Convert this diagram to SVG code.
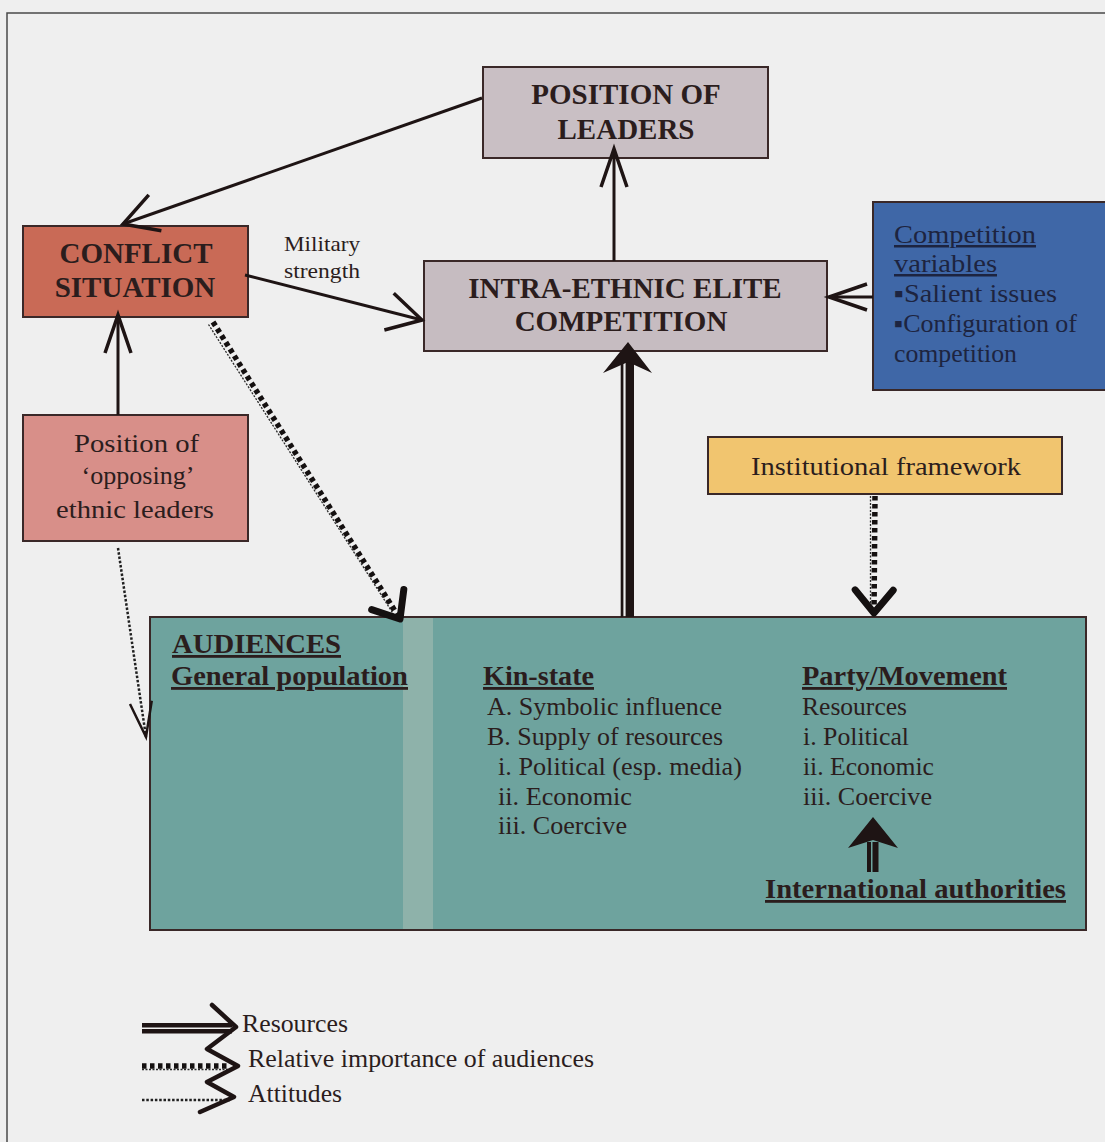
<svg xmlns="http://www.w3.org/2000/svg" width="1105" height="1142" viewBox="0 0 1105 1142">
  <style>
    .bg { fill: #efefef; }
    .frame { stroke: #4a4a4a; stroke-width: 1.5; fill: none; }
    .box { stroke: #3a2828; stroke-width: 2; }
    .t { font-family: "Liberation Serif", "Times New Roman", serif; fill: #2b1d1d; }
    .title { font-size: 29px; font-weight: bold; text-anchor: middle; }
    .reg { font-size: 25px; }
    .hd { font-size: 28px; font-weight: bold; text-decoration: underline; }
    .navy { fill: #1d2440; }
    .line { stroke: #1e1414; stroke-width: 3; fill: none; }
    .sq { stroke: #141010; stroke-width: 5.5; stroke-dasharray: 4.5 3.5; fill: none; }
    .thin { stroke: #2a2a2a; stroke-width: 1.3; stroke-dasharray: 2 1.5; fill: none; }
    .dots { stroke: #202020; stroke-width: 2.5; stroke-dasharray: 2.5 1.8; fill: none; }
  </style>
  <defs>
    <marker id="open" markerUnits="userSpaceOnUse" viewBox="-44 -20 48 40" markerWidth="48" markerHeight="40" refX="0" refY="0" orient="auto" overflow="visible">
      <path d="M-38,-13 L0,0 L-38,13" fill="none" stroke="#1e1414" stroke-width="3.5" stroke-linejoin="miter"/>
    </marker>
    <marker id="openWide" markerUnits="userSpaceOnUse" viewBox="-44 -24 48 48" markerWidth="48" markerHeight="48" refX="0" refY="0" orient="auto" overflow="visible">
      <path d="M-34,-19 L0,0 L-34,19" fill="none" stroke="#1e1414" stroke-width="3.5"/>
    </marker>
    <marker id="boldV" markerUnits="userSpaceOnUse" viewBox="-34 -26 40 52" markerWidth="40" markerHeight="52" refX="0" refY="0" orient="auto" overflow="visible">
      <path d="M-23,-19 L0,0 L-23,19" fill="none" stroke="#141010" stroke-width="7" stroke-linecap="round" stroke-linejoin="round"/>
    </marker>
    <marker id="thinV" markerUnits="userSpaceOnUse" viewBox="-40 -14 44 28" markerWidth="44" markerHeight="28" refX="0" refY="0" orient="auto" overflow="visible">
      <path d="M-35,-11 L0,0 L-35,11" fill="none" stroke="#1e1414" stroke-width="2.5"/>
    </marker>
  </defs>

  <!-- page -->
  <rect class="bg" x="0" y="0" width="1105" height="1142"/>
  <path class="frame" d="M7,1142 V13 H1105"/>

  <!-- nodes -->
  <g id="position-of-leaders">
    <rect class="box" x="483" y="67" width="285" height="91" fill="#c9bfc4"/>
    <text class="t title" x="626" y="104">POSITION OF</text>
    <text class="t title" x="626" y="139">LEADERS</text>
  </g>

  <g id="intra-ethnic-elite-competition">
    <rect class="box" x="424" y="261" width="403" height="90" fill="#c6bcc1"/>
    <text class="t title" x="625" y="298">INTRA-ETHNIC ELITE</text>
    <text class="t title" x="621" y="331">COMPETITION</text>
  </g>

  <g id="conflict-situation">
    <rect class="box" x="23" y="226" width="225" height="91" fill="#c96a56"/>
    <text class="t title" x="136" y="263">CONFLICT</text>
    <text class="t title" x="135" y="297">SITUATION</text>
  </g>

  <g id="opposing-leaders">
    <rect class="box" x="23" y="415" width="225" height="126" fill="#d88f89"/>
    <text class="t reg" x="136.5" y="452" text-anchor="middle" textLength="125" lengthAdjust="spacingAndGlyphs">Position of</text>
    <text class="t reg" x="138" y="484" text-anchor="middle" textLength="113" lengthAdjust="spacingAndGlyphs">‘opposing’</text>
    <text class="t reg" x="135" y="518" text-anchor="middle" textLength="158" lengthAdjust="spacingAndGlyphs">ethnic leaders</text>
  </g>

  <g id="competition-variables">
    <rect class="box" x="873" y="202" width="240" height="188" fill="#3f67a7"/>
    <text class="t reg navy" x="894" y="243" text-decoration="underline" textLength="142" lengthAdjust="spacingAndGlyphs">Competition</text>
    <text class="t reg navy" x="894" y="272" text-decoration="underline" textLength="103" lengthAdjust="spacingAndGlyphs">variables</text>
    <text class="t reg navy" x="894" y="302" textLength="163" lengthAdjust="spacingAndGlyphs">▪Salient issues</text>
    <text class="t reg navy" x="894" y="332" textLength="183" lengthAdjust="spacingAndGlyphs">▪Configuration of</text>
    <text class="t reg navy" x="894" y="362" textLength="123" lengthAdjust="spacingAndGlyphs">competition</text>
  </g>

  <g id="institutional-framework">
    <rect class="box" x="708" y="437" width="354" height="57" fill="#f1c56f"/>
    <text class="t reg" x="886" y="475" text-anchor="middle" textLength="270" lengthAdjust="spacingAndGlyphs">Institutional framework</text>
  </g>

  <g id="audiences">
    <rect class="box" x="150" y="617" width="936" height="313" fill="#6ea39e"/>
    <rect x="403" y="618" width="30" height="311" fill="#8eb2aa"/>
    <text class="t hd" x="172" y="653" textLength="169" lengthAdjust="spacingAndGlyphs">AUDIENCES</text>
    <text class="t hd" x="171" y="685" textLength="237" lengthAdjust="spacingAndGlyphs">General population</text>

    <text class="t hd" x="483" y="685" textLength="111" lengthAdjust="spacingAndGlyphs">Kin-state</text>
    <text class="t reg" x="487" y="715" textLength="235" lengthAdjust="spacingAndGlyphs">A. Symbolic influence</text>
    <text class="t reg" x="487" y="745" textLength="236" lengthAdjust="spacingAndGlyphs">B. Supply of resources</text>
    <text class="t reg" x="498" y="775" textLength="244" lengthAdjust="spacingAndGlyphs">i. Political (esp. media)</text>
    <text class="t reg" x="498" y="805" textLength="134" lengthAdjust="spacingAndGlyphs">ii. Economic</text>
    <text class="t reg" x="498" y="834" textLength="129" lengthAdjust="spacingAndGlyphs">iii. Coercive</text>

    <text class="t hd" x="802" y="685" textLength="205" lengthAdjust="spacingAndGlyphs">Party/Movement</text>
    <text class="t reg" x="802" y="715" textLength="105" lengthAdjust="spacingAndGlyphs">Resources</text>
    <text class="t reg" x="803" y="745" textLength="106" lengthAdjust="spacingAndGlyphs">i. Political</text>
    <text class="t reg" x="803" y="775" textLength="131" lengthAdjust="spacingAndGlyphs">ii. Economic</text>
    <text class="t reg" x="803" y="805" textLength="129" lengthAdjust="spacingAndGlyphs">iii. Coercive</text>

    <!-- resources from international authorities -->
    <rect x="867" y="842" width="4" height="30" fill="#1e1414"/>
    <rect x="872.5" y="842" width="6" height="30" fill="#1e1414"/>
    <path d="M873,817 L898,848 L873,840 L848,848 Z" fill="#1e1414"/>
    <text class="t hd" x="765" y="898" textLength="301" lengthAdjust="spacingAndGlyphs">International authorities</text>
  </g>

  <!-- connectors -->
  <g id="connectors">
    <!-- plain influence arrows -->
    <line class="line" x1="482" y1="98" x2="123" y2="224" marker-end="url(#openWide)"/>
    <line class="line" x1="245" y1="275" x2="422" y2="320" marker-end="url(#openWide)"/>
    <line class="line" x1="614" y1="261" x2="614" y2="149" marker-end="url(#open)"/>
    <line class="line" x1="873" y1="297" x2="829" y2="297" marker-end="url(#open)"/>
    <line class="line" x1="118" y1="415" x2="118" y2="315" marker-end="url(#open)"/>

    <!-- resources: audiences to elite competition -->
    <rect x="620.7" y="360" width="2.7" height="257" fill="#1e1414"/>
    <rect x="625.6" y="360" width="8.4" height="257" fill="#1e1414"/>
    <path d="M628,342 L652,373 L628,362 L603,373 Z" fill="#1e1414"/>

    <!-- relative importance of audiences -->
    <line class="thin" x1="208.5" y1="324.5" x2="394" y2="615"/>
    <line class="sq" x1="213" y1="322" x2="400" y2="619" marker-end="url(#boldV)"/>
    <line class="thin" x1="870.5" y1="496" x2="870.5" y2="606"/>
    <line class="sq" x1="875" y1="496" x2="874" y2="613" marker-end="url(#boldV)"/>

    <!-- attitudes -->
    <line class="dots" x1="118" y1="548" x2="146" y2="737" marker-end="url(#thinV)"/>
  </g>

  <!-- connector label -->
  <g id="military-strength">
    <text class="t" font-size="22" x="284" y="251" textLength="76" lengthAdjust="spacingAndGlyphs">Military</text>
    <text class="t" font-size="22" x="284" y="278" textLength="76" lengthAdjust="spacingAndGlyphs">strength</text>
  </g>

  <!-- legend -->
  <g id="legend">
    <rect x="142" y="1023" width="90" height="4.5" fill="#1e1414"/>
    <rect x="142" y="1029" width="90" height="4.5" fill="#1e1414"/>
    <line class="sq" x1="142" y1="1066" x2="230" y2="1066" stroke-width="4"/>
    <line class="thin" x1="142" y1="1069.5" x2="230" y2="1069.5"/>
    <line class="dots" x1="142" y1="1100" x2="230" y2="1100" stroke-width="2.2"/>
    <polyline points="212,1005 236,1027 207,1049 238,1066 207,1082 234,1097 200,1112" fill="none" stroke="#1e1414" stroke-width="4.5" stroke-linejoin="round" stroke-linecap="round"/>
    <text class="t reg" x="242" y="1032" textLength="106" lengthAdjust="spacingAndGlyphs">Resources</text>
    <text class="t reg" x="248" y="1067" textLength="346" lengthAdjust="spacingAndGlyphs">Relative importance of audiences</text>
    <text class="t reg" x="248" y="1102" textLength="94" lengthAdjust="spacingAndGlyphs">Attitudes</text>
  </g>
</svg>
